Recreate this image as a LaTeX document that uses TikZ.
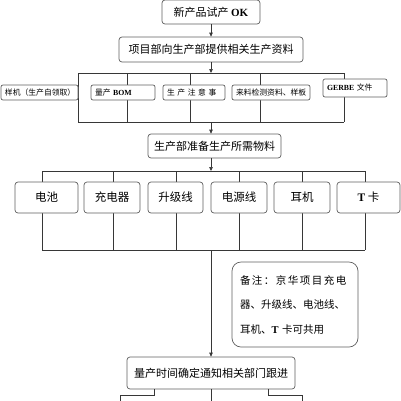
\documentclass[tikz,border=0pt]{standalone}
\usepackage{fontspec}
\setmainfont{Liberation Serif}
\newfontfamily\cjk{Noto Sans CJK SC}
\newfontfamily\cjkwide{Noto Sans CJK SC}[LetterSpace=14]
\usepackage{xcolor}
\usepackage{tikz}
\usetikzlibrary{arrows.meta,positioning,calc,backgrounds}
\definecolor{linegray}{RGB}{55,55,55}
\definecolor{boxgray}{RGB}{95,95,95}
\newcommand{\lat}[1]{{\rmfamily\bfseries #1}}

\begin{document}
\begin{tikzpicture}[x=1pt, y=-1pt,
  box/.style={rectangle, rounded corners=3pt, draw=boxgray, fill=white, line width=0.7pt,
    align=center, inner sep=2pt, font=\cjk\fontsize{11}{13}\selectfont},
  doc/.style={box, rounded corners=2pt, inner xsep=4pt, minimum height=15pt, align=left,
    font=\cjk\fontsize{7.8}{9}\selectfont},
  part/.style={box, minimum height=31pt, font=\cjk\fontsize{11.5}{13}\selectfont},
  note/.style={box, rounded corners=9pt, inner xsep=8pt, text width=110pt, align=left,
    minimum height=85pt, font=\cjk\fontsize{10.5}{24.5}\selectfont},
  arr/.style={-{Triangle[length=4pt,width=3.5pt]}, linegray, line width=0.7pt},
  bus/.style={linegray, line width=0.7pt}]
\useasboundingbox (0,0) rectangle (401,400);
% main chain
\node[box, minimum width=98pt, minimum height=24pt] (trial) at (211,12) {新产品试产 \lat{OK}};
\node[box, minimum width=184pt, minimum height=25pt] (info) at (211,49.5) {项目部向生产部提供相关生产资料};
% documents handed over
\node[doc, text width=69pt] (sample) at (39.5,92.5) {样机（生产自领取）};
\node[doc, text width=56pt] (bom) at (123,92.5) {量产 \lat{BOM}};
\node[doc, text width=54pt] (notice) at (194,92.5) {生 产 注 意 事};
\node[doc, text width=70pt] (incoming) at (271,92.5) {来料检测资料、样板};
\node[doc, text width=56pt, minimum height=18pt] (gerber) at (355,88) {\lat{GERBE} 文件};
\node[box, minimum width=133pt, minimum height=24pt] (prep) at (214.5,146) {生产部准备生产所需物料};
% materials
\node[part, minimum width=63pt] (battery) at (46.5,197.5) {电池};
\node[part, minimum width=56pt] (charger) at (112,197.5) {充电器};
\node[part, minimum width=55pt] (upgrade) at (175.5,197.5) {升级线};
\node[part, minimum width=56pt] (power) at (239,197.5) {电源线};
\node[part, minimum width=56pt] (earphone) at (302,197.5) {耳机};
\node[part, minimum width=63pt] (tcard) at (368.5,197.5) {\lat{T} 卡};
\node[note] (remark) at (295,304.5) {{\cjkwide 备注：京华项目充电}\\器、升级线、电池线、\\耳机、\lat{T} 卡可共用};
\node[box, minimum width=168pt, minimum height=32pt] (mass) at (211,373) {量产时间确定通知相关部门跟进};
% buses
\coordinate (docin) at (211,73);
\coordinate (docout) at (211,122);
\coordinate (partin) at (211,171);
\coordinate (partout) at (211,250);
\begin{scope}[on background layer]
  \draw[bus] (78,73) -- (344,73);
  \draw[bus] (78,122) -- (344,122);
  \foreach \x in {78,127,190,260,344}
    \draw[bus] (\x,73) -- (\x,122);
  \draw[bus] (42,171) -- (365,171);
  \draw[bus] (42,250) -- (365,250);
  \foreach \x in {42,113,176,239,302,365}
    \draw[bus] (\x,171) -- (\x,250);
\end{scope}
\draw[arr] (trial) -- (info);
\draw[arr] (info) -- (docin);
\draw[arr] (docout) -- (prep.north -| docout);
\draw[arr] (prep.south -| partin) -- (partin);
\draw[arr] (partout) -- (mass);
% towards the next row
\draw[bus] (mass.south -| 154,0) |- (120,395) -- (120,401);
\draw[bus] (mass.south) -- (211,401);
\draw[bus] (mass.south -| 268,0) |- (302,395) -- (302,401);
\end{tikzpicture}
\end{document}
